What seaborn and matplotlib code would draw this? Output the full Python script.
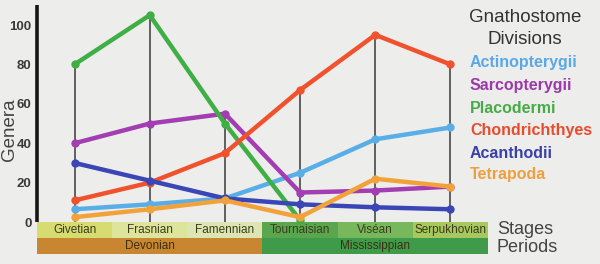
import numpy as np
import pandas as pd
import matplotlib
matplotlib.use("Agg")
import matplotlib.pyplot as plt
from matplotlib.patches import Rectangle
import seaborn as sns

stages = ["Givetian", "Frasnian", "Famennian", "Tournaisian", "Viséan", "Serpukhovian"]
periods = ["Devonian", "Mississippian"]
period_spans = [3, 3]
groups = ["Actinopterygii", "Sarcopterygii", "Placodermi", "Chondrichthyes", "Acanthodii", "Tetrapoda"]

actinopterygii = [6.5, 9, 12, 25, 42, 48]
sarcopterygii = [40, 50, 55, 15, 16, 18]
placodermi = [80, 105, 50, 1, np.nan, np.nan]
chondrichthyes = [11, 20, 35, 67, 95, 80]
acanthodii = [30, 21, 12, 9, 7.5, 6.5]
tetrapoda = [2.5, 6.5, 11, 2.5, 22, 18]

yticks = [0, 20, 40, 60, 80, 100]

line_colors = ["#5aaee8", "#a23db2", "#3fae45", "#f0522e", "#3a46b6", "#f2a23a"]
text_colors = ["#5aa8e6", "#9c3aaa", "#48aa48", "#e84c2e", "#3a40a8", "#eea040"]
stage_colors = ["#d6dc70", "#dde49c", "#dde6b2", "#5aa64e", "#78b85c", "#a6c85e"]
period_colors = ["#c98630", "#3f9a4a"]

series = [actinopterygii, sarcopterygii, placodermi, chondrichthyes, acanthodii, tetrapoda]
rows = []
for g, vals in zip(groups, series):
    for i, (s, v) in enumerate(zip(stages, vals)):
        rows.append({"group": g, "stage": s, "pos": i, "genera": v})
df = pd.DataFrame(rows).dropna()

sns.set_style("white")
plt.rcParams["font.family"] = ["Liberation Sans", "DejaVu Sans"]
narrow = ["Liberation Sans Narrow", "Liberation Sans", "DejaVu Sans"]

bg = "#ededeb"
fig = plt.figure(figsize=(6, 2.64), dpi=100, facecolor=bg)
ax = fig.add_axes([37 / 600, 10 / 264, 451 / 600, 248.7 / 264])
ax.set_facecolor("none")

# drop lines from 0 to the highest value at each stage
tops = df.groupby("pos")["genera"].max()
ax.vlines(tops.index, 0, tops.values, color="#3a3a3a", lw=1.1, zorder=1)

sns.lineplot(data=df, x="pos", y="genera", hue="group", hue_order=groups,
             palette=dict(zip(groups, line_colors)), marker="o", markersize=6,
             markeredgewidth=0, lw=3.2, legend=False, sort=True, ax=ax, zorder=3)

ax.set_xlim(-0.5, 5.5)
ax.set_ylim(-16.2, 110)
for sp in ax.spines.values():
    sp.set_visible(False)
ax.plot([-0.5, -0.5], [0, 110], color="#151515", lw=2.6, solid_capstyle="butt", zorder=4, clip_on=False)

ax.set_xticks([])
ax.set_yticks(yticks)
ax.set_yticklabels([str(t) for t in yticks], fontsize=9.5, fontweight="bold", color="#3a3a3a",
                   family=narrow)
ax.tick_params(axis="y", length=0, pad=4)
ax.set_xlabel("")
ax.set_ylabel("Genera", fontsize=13.5, color="#444444")
ax.yaxis.set_label_coords(-0.043, (47 + 16.2) / 126.2)

# stage band
for i, (s, c) in enumerate(zip(stages, stage_colors)):
    ax.add_patch(Rectangle((i - 0.5, -8.1), 1, 8.1, color=c, lw=0, zorder=2))
    ax.text(i, -4.05, s, ha="center", va="center", fontsize=8.5, color="#3c3c1c", zorder=5, family=narrow)
# period band
start = 0
for p, n, c in zip(periods, period_spans, period_colors):
    ax.add_patch(Rectangle((start - 0.5, -16.2), n, 8.1, color=c, lw=0, zorder=2))
    ax.text(start - 0.5 + n / 2, -12.15, p, ha="center", va="center", fontsize=8.5, color="#3c3010",
            zorder=5, family=narrow)
    start += n

# labels to right of bands
fig.text(497 / 600, 1 - 230 / 264, "Stages", ha="left", va="center", fontsize=13, color="#444444")
fig.text(497 / 600, 1 - 248 / 264, "Periods", ha="left", va="center", fontsize=13, color="#444444")

# legend-like text
fig.text(525 / 600, 1 - 17 / 264, "Gnathostome", ha="center", va="center", fontsize=13.5, color="#333333")
fig.text(525 / 600, 1 - 40 / 264, "Divisions", ha="center", va="center", fontsize=13.5, color="#333333")
ys = [63, 86, 108, 130, 153, 174]
for g, c, y in zip(groups, text_colors, ys):
    fig.text(470 / 600, 1 - y / 264, g, ha="left", va="center", fontsize=11.5, fontweight="bold", color=c)

fig.savefig("out.png", dpi=100, facecolor=bg)
